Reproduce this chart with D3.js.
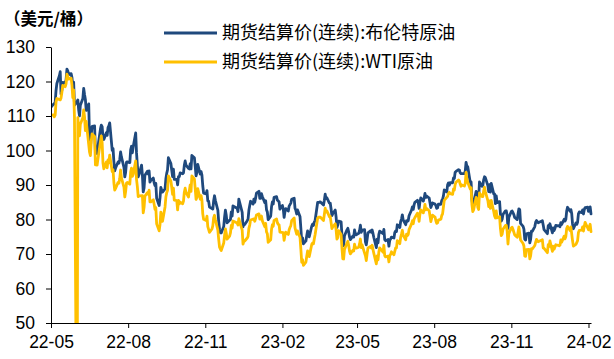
<!DOCTYPE html>
<html>
<head>
<meta charset="utf-8">
<script src="https://cdn.jsdelivr.net/npm/d3@7"></script>
<style>
  html, body { margin: 0; padding: 0; background: #fff; }
  svg { display: block; }
  .tick text { font-family: "Liberation Sans", Arial, sans-serif; fill: #000; }
  .cjk { font-family: "Noto Sans CJK SC", sans-serif; fill: #000; }
</style>
</head>
<body>
<svg id="chart" width="614" height="359"></svg>
<script>
// ---- labels ----
const unitLabel = "（美元/桶）";
const seriesNames = ["期货结算价(连续):布伦特原油", "期货结算价(连续):WTI原油"];
const seriesColors = ["#1f497d", "#ffc000"];

// ---- trading calendar (weekdays, minus exchange closures) ----
const firstDay = "2022-05-20";
const lastDay = "2024-02-23";
const closedDays = ["2022-12-26", "2022-12-27", "2023-01-02", "2023-04-07",
                    "2023-12-25", "2023-12-26", "2024-01-01"];

// ---- axis ticks ----
const yTicks = [50, 60, 70, 80, 90, 100, 110, 120, 130];
const xTickDates = ["2022-05-20", "2022-08-20", "2022-11-20", "2023-02-20",
                    "2023-05-20", "2023-08-20", "2023-11-20", "2024-02-20"];

// ---- Brent settlement, one row per trading week ----
const brent = [
  112.55,
  113.42,113.56,114.03,117.40,119.43,
  121.67,122.84,116.29,117.61,119.72,
  119.51,120.57,123.58,123.07,122.01,
  122.27,121.17,118.51,119.81,113.12,
  114.13,114.65,111.74,110.05,113.12,
  115.09,117.98,116.26,114.81,111.63,
  113.50,102.77,100.69,104.65,107.02,
  107.10,99.49,99.57,99.10,101.16,
  106.27,107.35,106.92,103.86,103.20,
  105.15,104.40,106.62,107.14,108.00,
  100.03,100.54,96.78,94.12,94.92,
  96.65,96.31,97.40,99.60,98.15,
  95.10,92.34,93.65,96.59,96.72,
  96.48,100.22,101.22,99.34,100.99,
  105.09,99.31,95.64,92.36,93.02,
  95.74,92.83,88.00,89.15,92.84,
  94.00,93.17,94.10,90.84,91.35,
  92.00,90.62,89.83,90.46,86.15,
  84.06,86.27,89.32,88.49,87.96,
  88.86,91.80,93.37,94.42,97.92,
  96.19,94.29,92.45,94.57,91.63,
  91.62,90.03,92.41,92.38,93.50,
  93.26,93.52,95.69,96.96,95.77,
  94.83,94.65,96.16,94.67,98.57,
  97.92,95.36,92.65,93.67,95.99,
  93.14,93.86,92.86,89.78,87.62,
  87.45,88.36,85.41,85.34,83.63,
  83.19,83.03,85.43,86.88,85.57,
  82.68,79.35,77.17,76.15,76.10,
  77.99,80.68,82.70,81.21,79.04,
  79.80,79.99,82.20,80.98,83.92,
  83.26,82.26,85.91,
  82.10,77.84,78.69,78.57,
  79.65,80.10,82.67,84.03,85.28,
  84.46,85.92,84.98,86.16,87.63,
  88.19,86.13,86.12,87.47,86.66,
  84.90,85.46,82.84,82.17,79.94,
  80.99,83.69,85.09,84.50,86.39,
  86.61,85.58,85.38,85.14,83.00,
  84.07,83.05,80.60,82.21,83.16,
  82.45,83.89,84.31,84.75,85.83,
  86.18,83.29,82.66,81.59,82.78,
  80.77,77.45,73.69,74.70,72.97,
  73.79,75.32,76.69,75.91,74.99,
  78.12,78.65,78.28,79.27,79.77,
  84.93,84.94,84.99,85.12,
  84.18,85.61,87.33,86.09,86.31,
  84.76,84.77,83.12,81.10,81.66,
  82.73,80.77,77.69,78.37,79.54,
  79.31,75.32,72.33,72.50,75.30,
  77.01,77.44,76.41,74.98,74.17,
  75.23,74.91,76.96,75.86,75.58,
  75.99,76.84,78.36,76.26,76.95,
  77.07,73.54,72.66,74.28,76.13,
  76.71,76.29,76.95,75.96,74.79,
  71.84,74.29,73.20,75.67,76.61,
  76.09,75.90,77.12,74.14,73.85,
  74.18,72.26,74.03,74.34,74.90,
  74.65,76.25,76.65,76.52,78.47,
  77.69,79.40,80.11,81.36,79.87,
  78.50,79.63,79.46,79.64,81.07,
  82.74,83.64,82.92,84.24,84.99,
  85.56,84.91,83.20,85.14,86.24,
  85.34,86.17,87.55,86.40,86.81,
  86.21,84.89,83.45,84.12,84.80,
  84.46,84.03,83.21,83.36,84.48,
  84.42,85.49,85.86,86.86,88.55,
  88.00,90.04,90.60,89.92,90.65,
  90.64,92.06,91.88,93.70,93.93,
  94.43,94.34,93.53,93.30,93.27,
  93.29,93.96,96.55,95.38,95.31,
  90.71,90.92,85.81,84.07,84.58,
  88.15,87.65,85.82,86.00,90.89,
  89.65,89.90,91.50,92.38,92.16,
  89.83,88.07,90.13,87.93,90.48,
  87.45,87.41,84.63,86.85,84.89,
  85.18,81.61,79.54,80.01,81.43,
  82.52,82.47,81.18,77.42,80.61,
  82.32,82.45,81.96,81.42,80.58,
  79.98,81.68,83.10,82.83,78.88,
  78.03,77.20,74.30,74.05,75.84,
  76.03,73.24,74.26,76.61,76.55,
  77.95,79.23,79.70,79.39,79.07,
  79.65,78.39,77.04,
  75.89,78.25,77.59,78.76,
  76.12,77.59,76.80,77.41,78.29,
  78.15,78.29,77.88,79.10,78.56,
  80.06,79.55,80.04,82.43,83.55,
  82.40,82.87,81.71,78.70,77.33,
  78.99,78.59,79.21,81.63,82.19,
  82.00,82.77,81.60,82.86,83.47,
  83.56,82.34,83.03,83.67,81.62
];

// ---- WTI settlement, same calendar (null = no NYMEX settlement that day) ----
const wti = [
  110.28,
  110.29,109.77,110.33,114.09,115.07,
  null,114.67,115.26,116.87,118.87,
  118.50,119.41,122.11,121.51,120.67,
  120.93,118.93,115.31,117.59,109.56,
  0,109.52,106.19,104.27,107.62,
  109.57,111.76,109.78,105.76,108.43,
  null,99.50,98.53,102.73,104.79,
  104.09,95.84,96.30,95.78,97.59,
  102.60,104.22,102.26,96.35,94.70,
  96.70,94.98,97.26,96.42,98.62,
  93.89,94.42,90.66,88.54,89.01,
  90.76,90.50,91.93,94.34,92.09,
  89.41,86.53,88.11,90.50,90.77,
  90.23,93.74,94.89,92.52,93.06,
  97.01,91.64,89.55,86.61,86.87,
  null,86.88,81.94,83.54,86.79,
  87.78,87.31,88.48,85.10,85.11,
  85.73,84.45,82.94,83.49,78.74,
  76.71,78.50,82.15,81.23,79.49,
  83.63,86.52,87.76,88.45,92.64,
  91.13,89.35,87.27,89.11,85.61,
  85.46,82.82,85.55,84.51,85.05,
  84.58,85.32,87.91,89.08,87.90,
  86.53,88.37,90.00,88.17,92.61,
  91.79,88.91,85.83,86.47,88.96,
  85.87,86.92,85.59,81.64,80.08,
  79.73,80.95,77.94,null,76.28,
  77.24,78.20,80.55,81.22,79.98,
  76.93,74.25,72.01,71.46,71.02,
  73.17,75.39,77.28,76.11,74.29,
  75.19,76.09,78.29,77.49,79.56,
  78.96,78.40,80.26,
  76.93,72.84,73.67,73.77,
  74.63,75.12,77.41,78.39,79.86,
  null,80.18,79.48,80.33,81.31,
  81.62,80.13,80.15,81.01,79.68,
  77.90,78.87,76.41,75.88,73.39,
  74.11,77.14,78.47,78.06,79.72,
  80.14,79.06,78.59,78.49,76.34,
  null,76.16,73.95,75.39,76.32,
  75.68,77.05,77.69,78.16,79.68,
  80.46,77.58,76.66,75.72,76.68,
  74.80,71.33,67.61,68.35,66.74,
  67.64,69.33,70.90,69.96,69.26,
  72.81,73.20,72.97,74.37,75.67,
  80.42,80.71,80.61,80.70,
  79.74,81.53,83.26,82.16,82.52,
  80.83,80.86,79.16,77.37,77.87,
  78.76,77.07,74.30,74.76,76.78,
  75.66,71.66,68.60,68.56,71.34,
  73.16,73.71,72.56,70.87,70.04,
  71.11,70.86,72.83,71.86,71.69,
  71.99,72.91,74.34,71.83,72.67,
  null,69.46,68.09,70.10,71.74,
  72.15,71.74,72.53,71.29,70.17,
  67.12,69.42,68.27,70.62,71.78,
  null,70.50,72.53,69.51,69.16,
  69.37,67.70,69.56,69.86,70.64,
  69.79,null,71.79,71.80,73.86,
  72.99,74.83,75.75,76.89,75.42,
  74.15,75.75,75.35,75.63,77.07,
  78.74,79.63,78.78,80.09,80.58,
  81.80,81.37,79.49,81.55,82.82,
  81.94,82.92,84.40,82.82,83.19,
  82.51,80.99,79.38,80.39,81.25,
  80.72,79.64,78.89,79.05,79.83,
  80.10,81.16,81.63,83.63,85.55,
  null,86.69,87.54,87.87,87.51,
  87.29,88.84,88.52,90.16,90.77,
  91.48,91.20,90.28,89.63,90.03,
  89.68,90.39,93.68,91.71,90.79,
  88.82,89.23,84.22,82.31,82.79,
  86.38,85.97,83.49,82.91,87.69,
  86.66,86.66,88.32,89.37,88.08,
  85.49,83.74,85.39,83.21,85.54,
  82.31,81.02,80.44,82.46,80.51,
  80.82,77.37,75.33,75.74,77.17,
  78.26,78.26,76.66,72.90,75.89,
  77.60,77.77,77.10,null,75.54,
  74.86,76.41,77.86,75.96,74.07,
  73.04,72.32,69.38,69.34,71.23,
  71.32,68.61,69.47,71.58,71.43,
  72.47,73.44,74.22,73.89,73.56,
  74.11,71.77,71.65,
  70.38,72.70,72.19,73.81,
  70.77,72.24,71.37,72.02,72.68,
  null,72.40,72.56,74.08,73.41,
  75.19,74.37,75.09,77.36,78.01,
  76.78,77.82,75.85,73.82,72.28,
  72.78,73.31,73.86,76.22,76.84,
  76.92,77.87,76.64,78.03,79.19,
  null,77.04,77.91,78.61,76.49
];

// ---- build the trading-day axis ----
const parse = d3.timeParse("%Y-%m-%d");
const key = d3.timeFormat("%Y-%m-%d");
const closed = new Set(closedDays);
const days = d3.timeDay
  .range(parse(firstDay), d3.timeDay.offset(parse(lastDay), 1))
  .filter(d => d.getDay() !== 0 && d.getDay() !== 6 && !closed.has(key(d)));

const n = Math.min(days.length, brent.length, wti.length);
const rows = d3.range(n).map(i => ({ date: days[i], b: brent[i], w: wti[i] }));

// ---- layout ----
const svg = d3.select("#chart");
const plot = { left: 51, right: 591, top: 47, bottom: 323 };

const x = d3.scaleTime()
  .domain([parse(firstDay), parse(lastDay)])
  .range([plot.left, plot.right]);
const y = d3.scaleLinear()
  .domain([50, 130])
  .range([plot.bottom, plot.top]);

svg.append("defs").append("clipPath").attr("id", "plot-clip")
  .append("rect")
  .attr("x", plot.left).attr("y", plot.top)
  .attr("width", plot.right - plot.left + 4)
  .attr("height", plot.bottom - plot.top);

// ---- series lines ----
const lineGen = d3.line().x(d => x(d.date)).y(d => y(d.v));
const series = [
  rows.map(r => ({ date: r.date, v: r.b })),
  rows.filter(r => r.w !== null).map(r => ({ date: r.date, v: r.w }))
];

const lines = svg.append("g").attr("clip-path", "url(#plot-clip)");
series.forEach((s, i) => {
  lines.append("path")
    .datum(s)
    .attr("fill", "none")
    .attr("stroke", seriesColors[i])
    .attr("stroke-width", 2.8)
    .attr("stroke-linejoin", "round")
    .attr("stroke-linecap", "round")
    .attr("d", lineGen);
});

// ---- axes ----
const yAxis = d3.axisLeft(y)
  .tickValues(yTicks)
  .tickSize(5)
  .tickSizeOuter(0)
  .tickPadding(11);
const gy = svg.append("g")
  .attr("transform", `translate(${plot.left},0)`)
  .call(yAxis);

const xAxis = d3.axisBottom(x)
  .tickValues(xTickDates.map(parse))
  .tickFormat(d3.timeFormat("%y-%m"))
  .tickSize(5)
  .tickSizeOuter(0)
  .tickPadding(8);
const gx = svg.append("g")
  .attr("transform", `translate(0,${plot.bottom})`)
  .call(xAxis);

[gx, gy].forEach(g => {
  g.selectAll("path, line").attr("stroke", "#000").attr("stroke-width", 1);
  g.selectAll("text").attr("font-size", 17.5);
});

// ---- unit label ----
svg.append("text")
  .attr("class", "cjk")
  .attr("x", 4)
  .attr("y", 19)
  .attr("dy", "0.35em")
  .attr("font-size", 16.5)
  .attr("font-weight", "bold")
  .text(unitLabel);

// ---- legend ----
const legendY = [33, 62];
seriesNames.forEach((name, i) => {
  const g = svg.append("g").attr("transform", `translate(0,${legendY[i]})`);
  g.append("line")
    .attr("x1", 164).attr("x2", 217)
    .attr("y1", 0).attr("y2", 0)
    .attr("stroke", seriesColors[i])
    .attr("stroke-width", 3);
  g.append("text")
    .attr("class", "cjk")
    .attr("x", 222)
    .attr("dy", "0.36em")
    .attr("font-size", 18)
    .text(name);
});
</script>
</body>
</html>
